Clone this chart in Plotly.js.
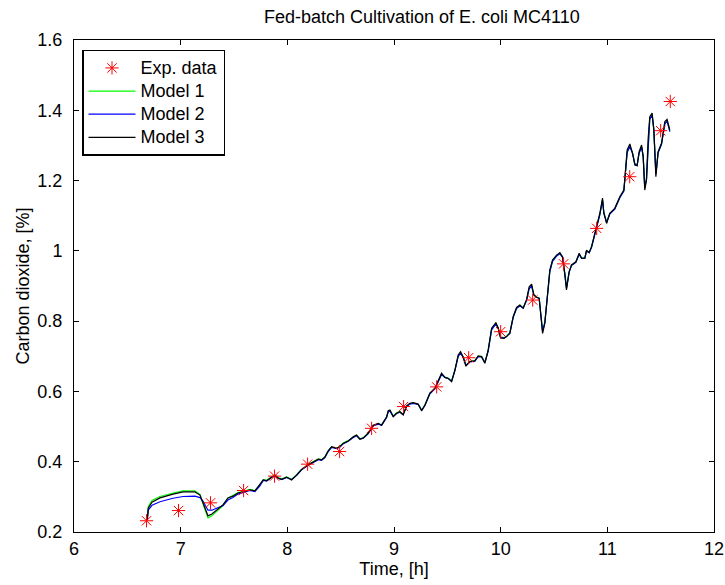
<!DOCTYPE html>
<html>
<head>
<meta charset="utf-8">
<script src="https://cdn.plot.ly/plotly-3.0.1.min.js"></script>
<style>html,body{margin:0;padding:0;background:#fff;}#chart{width:725px;height:585px;}</style>
</head>
<body>
<div id="chart"></div>
<script>
// Experimental data
const expTime = [6.68, 6.98, 7.28, 7.59, 7.88, 8.19, 8.49, 8.79, 9.09, 9.40, 9.70, 10.00, 10.30, 10.59, 10.90, 11.21, 11.50, 11.59];
const expCO2 = [0.232, 0.261, 0.283, 0.318, 0.359, 0.393, 0.429, 0.495, 0.557, 0.613, 0.696, 0.770, 0.860, 0.963, 1.064, 1.211, 1.342, 1.425];

// Model time base
const modelTime = [6.687,6.696,6.731,6.806,6.928,7.022,7.134,7.181,7.209,7.246,7.256,7.293,7.340,7.396,7.443,7.490,7.537,7.584,7.649,7.696,7.743,
7.774,7.806,7.853,7.884,7.915,7.947,7.993,8.040,8.087,8.134,
8.196,8.243,8.290,8.321,8.352,8.383,8.415,8.462,8.493,8.524,
8.571,8.618,8.649,8.680,8.711,8.758,8.805,8.852,8.884,8.931,
8.946,8.962,8.993,9.024,9.055,9.086,9.118,9.149,9.180,9.227,
9.259,9.290,9.336,9.383,9.414,9.446,9.477,9.508,9.540,9.571,
9.602,9.624,9.649,9.674,9.711,9.758,9.789,9.821,9.852,9.883,
9.915,9.955,9.977,9.999,10.030,10.055,10.086,10.117,10.149,10.180,
10.211,10.243,10.267,10.290,10.311,10.336,10.361,10.374,10.393,10.414,
10.436,10.461,10.486,10.524,10.555,10.580,10.602,10.617,10.642,10.664,
10.705,10.736,10.758,10.789,10.805,10.830,10.852,10.883,10.904,10.930,
10.955,10.967,10.993,11.023,11.070,11.117,11.155,11.173,11.186,11.211,
11.236,11.258,11.279,11.298,11.321,11.336,11.351,11.367,11.382,11.398,
11.420,11.436,11.455,11.476,11.508,11.539,11.560,11.586];

const model1 = [0.234,0.272,0.290,0.301,0.311,0.317,0.317,0.307,0.280,0.248,0.240,0.246,0.259,0.275,0.296,0.303,0.312,0.315,0.321,0.318,0.334,
0.349,0.347,0.358,0.361,0.354,0.351,0.357,0.350,0.363,0.379,
0.392,0.401,0.408,0.406,0.414,0.430,0.442,0.439,0.444,0.453,
0.460,0.470,0.475,0.465,0.468,0.482,0.503,0.508,0.505,0.527,
0.543,0.545,0.530,0.539,0.543,0.535,0.558,0.565,0.567,0.563,
0.547,0.562,0.594,0.608,0.627,0.649,0.641,0.638,0.630,0.660,
0.701,0.710,0.698,0.675,0.686,0.688,0.700,0.700,0.683,0.716,
0.776,0.793,0.781,0.755,0.753,0.757,0.767,0.811,0.837,0.845,
0.838,0.860,0.893,0.901,0.876,0.869,0.866,0.818,0.772,0.797,
0.858,0.942,0.971,0.986,0.993,0.982,0.935,0.896,0.940,0.959,
0.968,0.991,0.980,0.980,1.000,0.996,1.011,1.048,1.075,1.104,
1.145,1.110,1.082,1.106,1.120,1.152,1.171,1.226,1.282,1.298,
1.279,1.248,1.244,1.279,1.296,1.270,1.182,1.205,1.310,1.376,
1.387,1.346,1.220,1.280,1.304,1.362,1.370,1.340];

const model2 = [0.234,0.262,0.276,0.286,0.296,0.301,0.302,0.298,0.288,0.268,0.262,0.262,0.267,0.275,0.291,0.298,0.308,0.312,0.318,0.315,0.331,
0.347,0.345,0.356,0.360,0.353,0.349,0.355,0.349,0.361,0.377,
0.390,0.399,0.406,0.404,0.412,0.429,0.441,0.437,0.442,0.451,
0.458,0.469,0.474,0.465,0.467,0.480,0.502,0.507,0.504,0.526,
0.542,0.544,0.529,0.537,0.541,0.534,0.557,0.564,0.566,0.563,
0.546,0.560,0.593,0.607,0.626,0.648,0.640,0.637,0.629,0.659,
0.700,0.709,0.697,0.674,0.684,0.686,0.699,0.698,0.682,0.715,
0.775,0.792,0.780,0.754,0.752,0.756,0.765,0.810,0.836,0.844,
0.837,0.859,0.892,0.900,0.875,0.868,0.865,0.817,0.771,0.796,
0.857,0.941,0.970,0.985,0.992,0.981,0.934,0.894,0.939,0.958,
0.967,0.990,0.979,0.979,0.999,0.995,1.010,1.047,1.074,1.103,
1.144,1.109,1.081,1.105,1.119,1.151,1.170,1.225,1.280,1.297,
1.278,1.247,1.243,1.278,1.295,1.269,1.180,1.204,1.309,1.375,
1.386,1.345,1.218,1.279,1.303,1.361,1.369,1.339];

const model3 = [0.234,0.268,0.285,0.297,0.308,0.314,0.314,0.305,0.283,0.254,0.246,0.251,0.263,0.277,0.297,0.302,0.311,0.314,0.320,0.317,0.334,
0.348,0.346,0.357,0.362,0.353,0.350,0.356,0.348,0.362,0.378,
0.391,0.400,0.407,0.405,0.413,0.431,0.443,0.438,0.443,0.452,
0.459,0.471,0.476,0.464,0.467,0.481,0.504,0.509,0.504,0.528,
0.545,0.547,0.528,0.538,0.542,0.533,0.559,0.566,0.568,0.564,
0.545,0.561,0.595,0.609,0.628,0.652,0.640,0.637,0.628,0.661,
0.704,0.713,0.697,0.672,0.685,0.687,0.701,0.699,0.680,0.718,
0.780,0.796,0.780,0.752,0.751,0.756,0.766,0.813,0.839,0.846,
0.837,0.862,0.898,0.905,0.874,0.868,0.865,0.813,0.765,0.794,
0.860,0.946,0.974,0.988,0.995,0.983,0.931,0.889,0.941,0.960,
0.969,0.993,0.979,0.979,1.002,0.995,1.012,1.050,1.078,1.107,
1.150,1.107,1.078,1.107,1.121,1.154,1.173,1.230,1.287,1.304,
1.278,1.244,1.242,1.282,1.301,1.268,1.173,1.202,1.316,1.382,
1.392,1.344,1.211,1.282,1.306,1.368,1.374,1.344];

const xTicks = [6, 7, 8, 9, 10, 11, 12];
const yTicks = [0.2, 0.4, 0.6, 0.8, 1, 1.2, 1.4, 1.6];
const yTickText = ['0.2', '0.4', '0.6', '0.8', '1', '1.2', '1.4', '1.6'];
const seriesNames = ['Exp. data', 'Model 1', 'Model 2', 'Model 3'];

const FONT = 'Liberation Sans, Arial, sans-serif';
const FS = 18;
const big = s => '<span style="font-size:18px">' + s + '</span>';

const traces = [
  {x: modelTime, y: model1, mode: 'lines', name: big(seriesNames[1]), line: {color: '#00ff00', width: 1.2}, legendrank: 2, legendgroup: 'b'},
  {x: modelTime, y: model2, mode: 'lines', name: big(seriesNames[2]), line: {color: '#0000ff', width: 1.2}, legendrank: 3, legendgroup: 'c'},
  {x: modelTime, y: model3, mode: 'lines', name: big(seriesNames[3]), line: {color: '#000000', width: 1.2}, legendrank: 4, legendgroup: 'd'},
  {x: expTime, y: expCO2, mode: 'markers', name: big(seriesNames[0]), legendrank: 1, legendgroup: 'a',
   marker: {symbol: 'asterisk-open', size: 11, color: '#ff0000', line: {color: '#ff2020', width: 1}}}
];

const axisCommon = {
  showgrid: false, zeroline: false, showline: true, linecolor: '#000', linewidth: 1,
  mirror: 'ticks', ticks: 'inside', ticklen: 5, tickcolor: '#000', tickwidth: 1,
  tickfont: {family: FONT, size: FS, color: '#000'}
};

const layout = {
  width: 725, height: 585,
  margin: {l: 74, r: 11, t: 40, b: 53},
  paper_bgcolor: '#fff', plot_bgcolor: '#fff',
  title: {text: 'Fed-batch Cultivation of E. coli MC4110', font: {family: FONT, size: FS, color: '#000'},
    x: 0.5435, xref: 'paper', xanchor: 'center', y: 0.972, yref: 'container', yanchor: 'middle'},
  xaxis: Object.assign({}, axisCommon, {range: [6, 12], tickvals: xTicks, ticktext: xTicks.map(String), ticklabelstandoff: 0,
    title: {text: 'Time, [h]', font: {family: FONT, size: FS, color: '#000'}, standoff: 4}}),
  yaxis: Object.assign({}, axisCommon, {range: [0.2, 1.6], tickvals: yTicks, ticktext: yTickText, ticklabelstandoff: 7,
    title: {text: 'Carbon dioxide, [%]', font: {family: FONT, size: FS, color: '#000'}, standoff: 3}}),
  showlegend: true,
  legend: {x: 0.0125, y: 0.98, xanchor: 'left', yanchor: 'top', bgcolor: '#fff', bordercolor: '#000', borderwidth: 1.5,
    font: {family: FONT, size: 15.5, color: '#000'}, traceorder: 'grouped', tracegroupgap: 0, itemwidth: 47}
};

Plotly.newPlot('chart', traces, layout, {staticPlot: true, displayModeBar: false});
</script>
</body>
</html>
